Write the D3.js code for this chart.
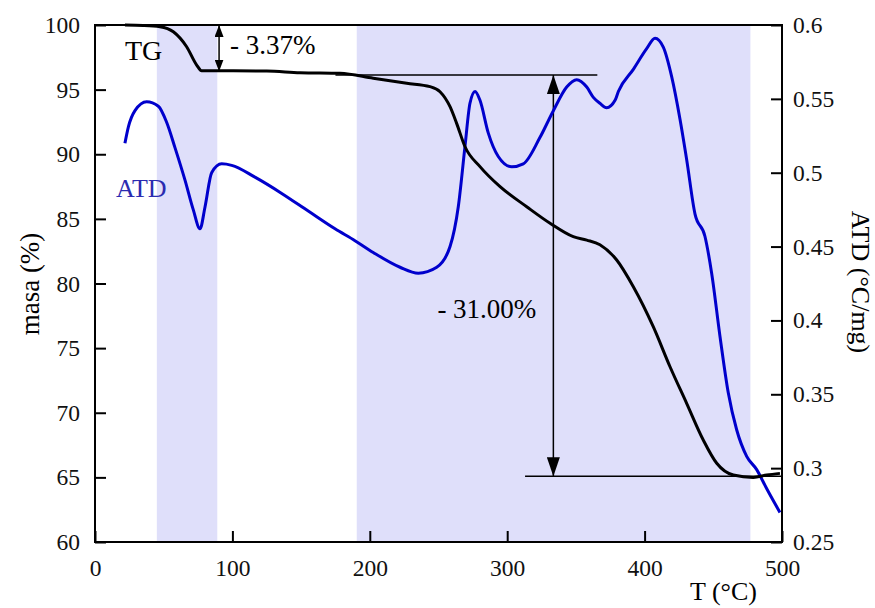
<!DOCTYPE html>
<html>
<head>
<meta charset="utf-8">
<script src="https://cdn.jsdelivr.net/npm/d3@7"></script>
<style>
  body { margin: 0; background: #fff; }
  text { font-family: "Liberation Serif", "DejaVu Serif", serif; }
</style>
</head>
<body>
<svg width="875" height="608"></svg>
<script>
// TG curve: temperature (°C) and mass (%)
const tgT = [21.8, 35, 47.3, 57, 66.7, 74, 77.6, 100.7, 125, 149.2, 178.3, 202.5, 226.9, 243.8, 251.1, 258.4, 263.2, 269.3, 280.2, 294.8, 314.2, 331.2, 348.1, 357.9, 367.5, 379.7, 391.8, 406.3, 418.5, 430.6, 442.7, 452.5, 464.6, 479.1, 488.9, 498.5];
const tgMass = [100.0, 99.97, 99.87, 99.48, 98.32, 96.9, 96.46, 96.46, 96.44, 96.31, 96.26, 95.88, 95.49, 95.23, 94.84, 93.68, 92.39, 90.58, 89.04, 87.49, 85.94, 84.66, 83.62, 83.36, 83.0, 81.82, 79.75, 76.66, 73.56, 70.73, 67.89, 66.09, 65.18, 65.0, 65.18, 65.31];

// ATD curve: temperature (°C) and signal (°C/mg)
const atdT = [21.8, 24.3, 29.1, 37.6, 46.1, 52.2, 58.2, 65.5, 71.5, 76.4, 80.1, 84.9, 92.2, 99.5, 116.4, 135.9, 155.2, 174.7, 189.2, 202.5, 222, 235.3, 248.7, 258.4, 264.4, 269.3, 272.9, 276.6, 280.2, 286.2, 293.5, 303.3, 311.7, 323.9, 333.6, 343.3, 350.6, 357.9, 362.7, 367.5, 372.4, 378.5, 380.9, 391.8, 401.5, 407.6, 413.6, 419.7, 425.8, 430.6, 436.7, 443.9, 448.8, 454.9, 460.9, 467.0, 474.3, 481.6, 488.9, 498.5];
const atdVal = [0.520, 0.531, 0.542, 0.548, 0.545, 0.534, 0.517, 0.495, 0.475, 0.462, 0.477, 0.500, 0.506, 0.505, 0.497, 0.486, 0.474, 0.462, 0.454, 0.446, 0.436, 0.432, 0.436, 0.450, 0.477, 0.518, 0.547, 0.555, 0.549, 0.527, 0.511, 0.504, 0.506, 0.524, 0.542, 0.558, 0.563, 0.558, 0.551, 0.547, 0.544, 0.549, 0.555, 0.570, 0.584, 0.591, 0.585, 0.565, 0.536, 0.509, 0.472, 0.457, 0.432, 0.389, 0.351, 0.326, 0.308, 0.299, 0.286, 0.270];

// shaded temperature ranges
const bands = [[45, 89], [190.5, 477]];

const xTicks = [0, 100, 200, 300, 400, 500];
const yTicks = [60, 65, 70, 75, 80, 85, 90, 95, 100];
const y2Ticks = [0.25, 0.3, 0.35, 0.4, 0.45, 0.5, 0.55, 0.6];

// mass loss annotations
const step1 = {t: 90.3, top: 100, bottom: 96.4, label: "- 3.37%"};
const step2 = {t: 333.6, top: 96.13, bottom: 65.08, label: "- 31.00%"};
const upperLine = {from: 175, to: 365.6, mass: 96.13};
const lowerLine = {from: 313, to: 500, mass: 65.08};

const svg = d3.select('svg');
const margin = {top: 25, right: 93, bottom: 66, left: 95};
const width = 875 - margin.left - margin.right,
      height = 608 - margin.top - margin.bottom;

const x = d3.scaleLinear().domain([0, 500]).range([0, width]);
const y = d3.scaleLinear().domain([60, 100]).range([height, 0]);
const y2 = d3.scaleLinear().domain([0.25, 0.6]).range([height, 0]);

const defs = svg.append('defs');
function marker(id, w, l) {
  defs.append('marker')
      .attr('id', id)
      .attr('markerUnits', 'userSpaceOnUse')
      .attr('viewBox', `0 ${-w/2} ${l} ${w}`)
      .attr('refX', l).attr('refY', 0)
      .attr('markerWidth', l).attr('markerHeight', w)
      .attr('orient', 'auto-start-reverse')
      .append('path')
      .attr('d', `M0,${-w/2}L${l},0L0,${w/2}Z`)
      .attr('fill', '#000');
}
marker('big', 13, 19);
marker('small', 9, 12);

const g = svg.append('g').attr('transform', `translate(${margin.left},${margin.top})`);

g.selectAll('.band')
  .data(bands)
  .enter().append('rect')
  .attr('x', d => x(d[0]))
  .attr('width', d => x(d[1]) - x(d[0]))
  .attr('y', 0)
  .attr('height', height)
  .attr('fill', '#dfdffa');

// reference lines and arrows
g.append('line')
  .attr('x1', x(upperLine.from)).attr('x2', x(upperLine.to))
  .attr('y1', y(upperLine.mass)).attr('y2', y(upperLine.mass))
  .attr('stroke', '#000').attr('stroke-width', 1.5);
g.append('line')
  .attr('x1', x(lowerLine.from)).attr('x2', x(lowerLine.to))
  .attr('y1', y(lowerLine.mass)).attr('y2', y(lowerLine.mass))
  .attr('stroke', '#000').attr('stroke-width', 1.5);

g.append('line')
  .attr('x1', x(step1.t)).attr('x2', x(step1.t))
  .attr('y1', y(step1.top)).attr('y2', y(step1.bottom))
  .attr('stroke', '#000').attr('stroke-width', 1.5)
  .attr('marker-start', 'url(#small)')
  .attr('marker-end', 'url(#small)');
g.append('line')
  .attr('x1', x(step2.t)).attr('x2', x(step2.t))
  .attr('y1', y(step2.top)).attr('y2', y(step2.bottom))
  .attr('stroke', '#000').attr('stroke-width', 1.5)
  .attr('marker-start', 'url(#big)')
  .attr('marker-end', 'url(#big)');

const tgData = d3.zip(tgT, tgMass);
const atdData = d3.zip(atdT, atdVal);

g.append('path')
  .datum(atdData)
  .attr('fill', 'none')
  .attr('stroke', '#0000cc')
  .attr('stroke-width', 3)
  .attr('d', d3.line().x(d => x(d[0])).y(d => y2(d[1])).curve(d3.curveMonotoneX));

g.append('path')
  .datum(tgData)
  .attr('fill', 'none')
  .attr('stroke', '#000')
  .attr('stroke-width', 3)
  .attr('d', d3.line().x(d => x(d[0])).y(d => y(d[1])).curve(d3.curveMonotoneX));

// axes with inward ticks
const fmt2 = d3.format('~g');
const xAxis = g.append('g')
  .attr('transform', `translate(0,${height})`)
  .call(d3.axisBottom(x).tickValues(xTicks).tickSizeInner(-11).tickSizeOuter(0).tickPadding(17));
const yAxis = g.append('g')
  .call(d3.axisLeft(y).tickValues(yTicks).tickSizeInner(-11).tickSizeOuter(0).tickPadding(15));
const y2Axis = g.append('g')
  .attr('transform', `translate(${width},0)`)
  .call(d3.axisRight(y2).tickValues(y2Ticks).tickFormat(fmt2).tickSizeInner(-11).tickSizeOuter(0).tickPadding(11));

[xAxis, yAxis, y2Axis].forEach(a => {
  a.select('.domain').remove();
  a.selectAll('line').attr('stroke-width', 2);
  a.selectAll('text').attr('font-size', 23.5).attr('fill', '#111')
   .style('font-family', '"Liberation Serif", serif');
});

g.append('rect')
  .attr('width', width).attr('height', height)
  .attr('fill', 'none').attr('stroke', '#000').attr('stroke-width', 2);

// labels
g.append('text')
  .attr('x', x(step1.t) + 11).attr('y', 29)
  .attr('font-size', 27).text(step1.label);
g.append('text')
  .attr('x', x(step2.t) - 17).attr('y', y(77.3))
  .attr('text-anchor', 'end')
  .attr('font-size', 27).text(step2.label);
g.append('text')
  .attr('x', 30).attr('y', 35)
  .attr('font-size', 28).text('TG');
g.append('text')
  .attr('x', 21).attr('y', 172)
  .attr('font-size', 26).attr('fill', '#2b2bb0').text('ATD');

svg.append('text')
  .attr('transform', 'translate(39,284) rotate(-90)')
  .attr('text-anchor', 'middle')
  .attr('font-size', 27).text('masa (%)');
svg.append('text')
  .attr('transform', 'translate(852,282) rotate(90)')
  .attr('text-anchor', 'middle')
  .attr('font-size', 26).text('ATD (°C/mg)');
svg.append('text')
  .attr('x', 757).attr('y', 600)
  .attr('text-anchor', 'end')
  .attr('font-size', 26).text('T (°C)');
</script>
</body>
</html>
